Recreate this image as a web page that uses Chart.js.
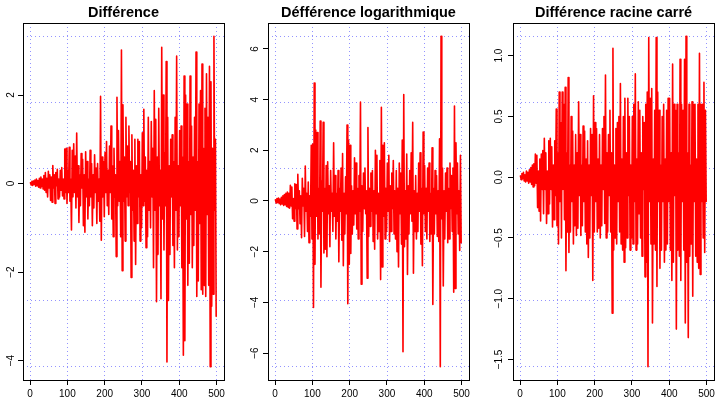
<!DOCTYPE html>
<html>
<head>
<meta charset="utf-8">
<script src="https://cdn.jsdelivr.net/npm/chart.js@4.4.1/dist/chart.umd.min.js"></script>
<style>
  html, body { margin: 0; padding: 0; background: #fff; overflow: hidden; }
  body { width: 716px; height: 400px; position: relative; }
  .panel { position: absolute; top: 0; height: 400px; }
</style>
</head>
<body>
<div class="panel" style="left:0px;width:247px"><canvas id="c1"></canvas></div>
<div class="panel" style="left:238px;width:261px"><canvas id="c2"></canvas></div>
<div class="panel" style="left:477px;width:273px"><canvas id="c3"></canvas></div>
<script>
// observations 1..500, one value read every 2 observations (x = 1, 3, 5, ...)
const nObs = 500;
const obsStep = 2;
const xTickVals = [0, 100, 200, 300, 400, 500];
const titles = ["Différence", "Défférence logarithmique", "Différence racine carré"];

const diffVals = [
  0.02,-0.03,0.05,-0.04,0.06,-0.02,0.08,-0.06,0.1,-0.05,
  0.07,-0.08,0.12,-0.1,0.15,-0.06,0.1,-0.12,0.18,-0.15,
  0.25,-0.2,0.12,-0.3,0.28,-0.1,0.2,-0.38,0.15,-0.42,
  0.41,-0.1,0.2,-0.45,0.25,-0.05,0.32,-0.35,0.1,-0.3,
  0.3,-0.15,0.36,-0.28,0.1,-0.35,0.78,-0.2,0.8,-0.45,
  0.3,-0.2,0.82,-0.4,0.1,-1.05,0.75,-0.3,0.9,-0.2,
  0.62,-0.55,1.14,-0.3,0.4,-0.88,0.2,-0.5,0.68,-0.1,
  0.55,-0.95,0.2,-1.1,0.72,-0.3,0.5,-0.8,0.1,-0.5,
  0.75,-0.3,0.45,-0.95,0.2,-0.55,0.65,-0.2,0.35,-0.9,
  0.45,-0.4,0.1,-0.85,1.97,-1.28,0.6,-0.3,0.5,-0.75,
  0.7,-0.2,0.95,-0.5,0.3,-0.7,0.85,-0.2,1.3,-0.8,
  0.4,-1.2,0.8,-0.3,0.2,-1.65,1.95,-0.5,1.2,-0.4,
  0.5,-1.2,3.02,-1.97,1.78,-0.4,0.6,-1.3,1.5,-0.3,
  0.85,-0.5,1.3,-0.2,0.5,-2.12,1.1,-0.6,0.3,-1.3,
  1.0,-1.83,0.4,-0.9,1.0,-0.3,0.95,-1.3,0.2,-1.0,
  1.15,-0.5,1.68,-0.4,0.6,-1.45,0.3,-1.2,1.5,-0.6,
  0.5,-1.0,1.4,-0.3,0.8,-1.9,2.1,-0.6,1.45,-2.67,
  0.6,-1.6,1.7,-0.5,0.3,-2.6,3.08,-0.8,2.0,-1.5,
  0.7,-0.5,2.76,-4.03,1.5,-2.64,0.4,-1.6,1.0,-0.3,
  1.1,-1.4,0.5,-1.9,1.5,-0.6,2.88,-1.5,0.4,-1.2,
  1.2,-0.5,1.3,-1.9,0.6,-3.88,2.43,-3.55,2.0,-0.8,
  1.8,-2.3,0.5,-1.8,2.43,-0.7,1.3,-1.9,0.6,-1.4,
  1.5,-0.6,2.97,-2.55,0.5,-2.2,1.8,-0.9,2.1,-2.4,
  2.7,-2.5,0.8,-2.3,1.7,-2.55,2.48,-0.7,1.5,-2.3,
  2.65,-4.14,2.3,-2.77,0.8,-2.5,3.33,-0.6,1.0,-3.0
];

const logDiffVals = [
  0.05,-0.08,0.1,-0.05,0.12,-0.1,0.08,-0.15,0.15,-0.12,
  0.2,-0.18,0.25,-0.15,0.3,-0.22,0.35,-0.25,0.3,-0.28,
  0.62,-0.2,0.55,-0.7,0.1,-0.8,0.68,-0.3,0.65,-1.1,
  1.05,-0.3,0.4,-0.9,0.2,-1.45,0.9,-0.2,0.5,-1.4,
  1.38,-0.4,0.3,-1.2,0.75,-1.65,0.2,-0.6,2.2,-1.5,
  2.25,-4.2,4.65,-2.5,2.8,-0.6,2.7,-1.5,0.5,-1.3,
  3.15,-3.4,0.8,-0.4,3.1,-2.05,0.5,-1.9,1.4,-2.2,
  1.55,-0.5,0.6,-1.8,1.2,-0.4,0.3,-1.2,2.3,-0.6,
  1.0,-1.5,0.3,-0.8,1.2,-2.4,0.5,-0.4,1.3,-1.55,
  1.87,-2.55,0.3,-1.3,0.95,-0.5,3.0,-4.05,2.4,-2.5,
  2.2,-2.07,0.6,-1.3,0.4,-0.95,1.7,-0.5,1.5,-1.1,
  0.5,-1.5,1.0,-0.4,3.9,-3.28,0.6,-1.2,1.1,-0.3,
  1.3,-0.5,0.4,-3.05,2.9,-1.4,0.5,-1.0,1.1,-0.4,
  1.2,-1.6,0.4,-1.9,2.0,-0.5,1.8,-1.5,0.3,-1.2,
  1.6,-3.1,3.7,-2.6,2.2,-0.6,2.3,-1.5,0.5,-1.2,
  1.5,-0.4,1.8,-1.6,0.6,-1.2,1.1,-0.3,1.6,-1.3,
  0.4,-1.5,1.2,-2.0,0.5,-2.6,1.5,-0.5,1.1,-1.7,
  2.4,-5.95,4.2,-1.8,0.4,-1.5,1.85,-2.9,0.6,-1.3,
  1.2,-0.5,1.9,-0.8,3.1,-2.85,0.4,-1.2,1.0,-1.5,
  0.3,-1.2,1.5,-0.4,1.9,-1.7,0.5,-2.55,2.72,-0.5,
  1.4,-1.2,0.5,-1.5,1.3,-0.4,1.5,-1.6,0.3,-1.3,
  2.1,-4.08,0.5,-1.3,1.2,-0.5,1.0,-1.4,0.4,-1.6,
  2.45,-6.54,6.5,-0.7,1.3,-3.35,0.4,-1.5,1.1,-0.4,
  1.3,-1.65,0.5,-1.5,1.5,-0.3,1.0,-1.2,1.3,-3.6,
  3.75,-3.45,2.3,-0.5,1.5,-1.3,0.4,-1.95,1.8,-1.65
];

const sqrtDiffVals = [
  0.01,-0.02,0.03,-0.01,0.04,-0.03,0.02,-0.04,0.05,-0.03,
  0.04,-0.05,0.06,-0.04,0.08,-0.06,0.1,-0.08,0.11,-0.07,
  0.19,-0.05,0.18,-0.25,0.05,-0.28,0.15,-0.36,0.19,-0.1,
  0.22,-0.3,0.32,-0.1,0.2,-0.38,0.05,-0.3,0.3,-0.22,
  0.32,-0.1,0.25,-0.41,0.1,-0.35,0.3,-0.15,0.56,-0.4,
  0.2,-0.55,0.7,-0.2,0.45,-0.5,0.7,-0.1,0.6,-0.35,
  0.74,-0.77,0.2,-0.45,0.82,-0.62,0.1,-0.45,0.5,-0.2,
  0.38,-0.55,0.1,-0.4,0.35,-0.48,0.2,-0.42,0.62,-0.15,
  0.35,-0.48,0.1,-0.4,0.42,-0.2,0.38,-0.45,0.15,-0.55,
  0.3,-0.66,0.1,-0.5,0.4,-0.15,0.35,-0.85,0.67,-0.45,
  0.45,-0.2,0.4,-0.45,0.15,-0.42,0.35,-0.5,0.1,-0.4,
  0.4,-0.1,0.5,-0.38,0.84,-0.5,0.2,-0.45,0.35,-0.15,
  0.55,-0.45,0.2,-1.12,1.06,-0.6,0.1,-0.5,0.4,-0.55,
  0.45,-0.2,0.5,-0.45,0.77,-0.55,0.15,-0.6,0.5,-0.7,
  0.65,-0.58,0.2,-0.5,0.65,-0.15,0.5,-0.6,0.1,-0.5,
  0.5,-0.55,0.6,-0.2,0.85,-0.6,0.15,-0.55,0.62,-0.3,
  0.55,-0.5,0.2,-0.65,0.5,-0.1,0.45,-0.82,0.6,-0.7,
  0.7,-1.56,1.15,-0.2,0.65,-0.55,0.73,-1.2,0.15,-0.55,
  0.55,-0.6,1.15,-0.9,0.7,-0.2,0.55,-0.75,0.1,-0.6,
  0.5,-0.2,0.6,-0.7,0.15,-0.6,0.55,-0.55,0.65,-0.2,
  0.65,-0.6,0.2,-0.85,0.93,-0.7,0.6,-0.15,0.55,-1.25,
  0.6,-0.6,0.2,-0.65,0.97,-0.85,0.6,-0.2,0.55,-0.6,
  0.97,-1.2,1.16,-0.7,0.2,-1.32,0.6,-0.65,0.1,-0.55,
  0.62,-0.98,0.6,-0.2,0.6,-0.65,0.15,-0.7,0.6,-0.75,
  1.02,-0.8,0.6,-0.2,0.6,-0.5,0.78,-0.62,0.55,-0.2
];

const diffTicks = [-4, -2, 0, 2];
const logDiffTicks = [-6, -4, -2, 0, 2, 4, 6];
const sqrtDiffTicks = [-1.5, -1, -0.5, 0, 0.5, 1];

const FONT = '"Liberation Sans", Arial, Helvetica, sans-serif';
const gridColor = "rgba(60,60,255,0.55)";

// R style axis range: data range plus 4% each side
function rRange(lo, hi) {
  const d = (hi - lo) * 0.04;
  return [lo - d, hi + d];
}
// 6 dotted lines from min to max
function gridSeq(lo, hi) {
  const out = [];
  for (let k = 0; k <= 5; k++) out.push(lo + (hi - lo) * k / 5);
  return out;
}
function fmtNum(v, dec) {
  return v.toFixed(dec).replace("-", "\u2212");
}

// box around plot + rotated y labels like base R
const boxAndLabels = {
  id: "boxAndLabels",
  afterDraw(chart, args, opts) {
    const { ctx, chartArea: a } = chart;
    ctx.save();
    ctx.strokeStyle = "#000";
    ctx.lineWidth = 1;
    ctx.strokeRect(Math.round(a.left) + 0.5, Math.round(a.top) + 0.5,
      Math.round(a.right - a.left), Math.round(a.bottom - a.top));
    const ys = chart.scales.y;
    ctx.font = "10px " + FONT;
    ctx.fillStyle = "#000";
    ctx.textAlign = "center";
    ctx.textBaseline = "middle";
    ys.ticks.forEach(t => {
      ctx.save();
      ctx.translate(a.left - opts.gap, ys.getPixelForValue(t.value));
      ctx.rotate(-Math.PI / 2);
      ctx.fillText(fmtNum(t.value, opts.dec), 0, 0);
      ctx.restore();
    });
    ctx.restore();
  }
};

function makeChart(id, title, values, yTicks, dec, axisW, gap) {
  const pts = values.map((v, i) => ({ x: 1 + i * obsStep, y: v }));
  const yMin = Math.min(...values), yMax = Math.max(...values);
  const yr = rRange(yMin, yMax);
  const xr = rRange(1, nObs);
  const yGrid = gridSeq(yMin, yMax);
  const xGrid = gridSeq(1, nObs);

  return new Chart(document.getElementById(id), {
    type: "line",
    data: {
      datasets: [{
        data: pts,
        borderColor: "#ff0000",
        borderWidth: 1.6,
        pointRadius: 0,
        tension: 0,
        fill: false,
        borderJoinStyle: "round",
        borderCapStyle: "round"
      }]
    },
    options: {
      responsive: true,
      maintainAspectRatio: false,
      animation: false,
      events: [],
      layout: { padding: { left: 0, right: axisW, top: 0, bottom: 0 } },
      plugins: {
        legend: { display: false },
        tooltip: { enabled: false },
        title: {
          display: true,
          fullSize: false,
          text: title,
          color: "#000",
          font: { family: FONT, size: 14.5, weight: "bold" },
          padding: { top: 4, bottom: 1.6 }
        },
        boxAndLabels: { gap: gap, dec: dec }
      },
      scales: {
        x: {
          type: "linear", position: "bottom", weight: 1,
          min: xr[0], max: xr[1],
          afterBuildTicks: s => { s.ticks = xTickVals.map(v => ({ value: v })); },
          afterFit: s => { s.height = 20; s.paddingLeft = 0; s.paddingRight = 0; },
          border: { display: false },
          grid: { drawOnChartArea: false, drawTicks: true, tickLength: 5, color: "#000", tickColor: "#000", tickWidth: 1 },
          ticks: { autoSkip: false, maxRotation: 0, minRotation: 0, padding: 3, color: "#000",
                   font: { family: FONT, size: 10 }, callback: v => String(v) }
        },
        xg: {
          type: "linear", position: "bottom", weight: 0,
          min: xr[0], max: xr[1],
          afterBuildTicks: s => { s.ticks = xGrid.map(v => ({ value: v })); },
          afterFit: s => { s.height = 0; s.paddingLeft = 0; s.paddingRight = 0; },
          border: { display: false, dash: [1, 3] },
          grid: { drawTicks: false, color: gridColor, lineWidth: 1 },
          ticks: { display: false }
        },
        y: {
          type: "linear", position: "left", weight: 1,
          min: yr[0], max: yr[1],
          afterBuildTicks: s => { s.ticks = yTicks.map(v => ({ value: v })); },
          afterFit: s => { s.width = axisW; s.paddingTop = 0; s.paddingBottom = 0; },
          border: { display: false },
          grid: { drawOnChartArea: false, drawTicks: true, tickLength: 5, color: "#000", tickColor: "#000", tickWidth: 1 },
          ticks: { display: false }
        },
        yg: {
          type: "linear", position: "left", weight: 0,
          min: yr[0], max: yr[1],
          afterBuildTicks: s => { s.ticks = yGrid.map(v => ({ value: v })); },
          afterFit: s => { s.width = 0; s.paddingTop = 0; s.paddingBottom = 0; },
          border: { display: false, dash: [1, 3] },
          grid: { drawTicks: false, color: gridColor, lineWidth: 1 },
          ticks: { display: false }
        }
      }
    },
    plugins: [boxAndLabels]
  });
}

makeChart("c1", titles[0], diffVals, diffTicks, 0, 23, 12);
makeChart("c2", titles[1], logDiffVals, logDiffTicks, 0, 30, 13);
makeChart("c3", titles[2], sqrtDiffVals, sqrtDiffTicks, 1, 36, 13.5);
</script>
</body>
</html>
